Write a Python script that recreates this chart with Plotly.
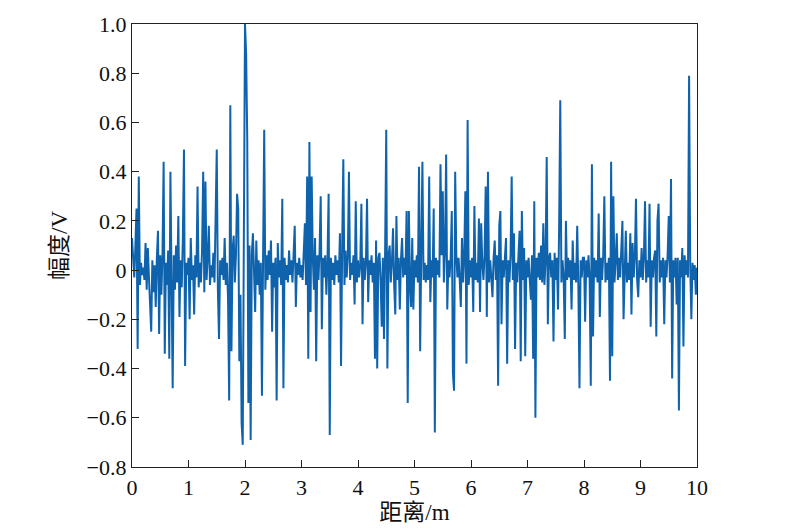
import numpy as np
import plotly.graph_objects as go

distance_step = 0.02  # m between samples

amplitude = [
    0.13, 0.02, -0.03, 0.10, 0.25, -0.32, 0.38, -0.06, 0.03, -0.02,
    0.01, -0.04, 0.11, -0.08, 0.09, -0.03, -0.12, -0.25, 0.04, -0.09,
    0.02, -0.15, 0.05, 0.16, -0.26, 0.06, -0.10, 0.07, 0.44, -0.34,
    0.03, -0.06, 0.08, -0.36, 0.40, 0.02, -0.48, 0.06, -0.08, 0.10,
    -0.05, 0.22, -0.19, 0.04, -0.07, 0.13, 0.49, -0.39, 0.03, -0.02,
    0.05, -0.20, 0.13, -0.04, 0.02, -0.18, 0.06, -0.03, 0.34, -0.07,
    0.03, -0.05, 0.08, 0.40, -0.09, 0.36, -0.04, 0.05, 0.18, -0.06,
    0.02, -0.03, 0.07, -0.05, 0.30, 0.49, -0.08, -0.28, 0.04, -0.02,
    0.05, -0.04, 0.13, -0.06, 0.03, -0.12, -0.53, 0.67, -0.33, 0.08,
    0.14, -0.05, 0.06, 0.31, 0.25, -0.37, -0.10, -0.62, -0.71, 0.46,
    1.00, 0.88, 0.53, -0.54, 0.10, -0.69, 0.06, 0.15, -0.08, -0.17,
    0.12, -0.06, 0.04, -0.10, 0.03, -0.51, 0.05, 0.57, -0.08, 0.06,
    -0.04, 0.08, -0.02, 0.12, -0.25, 0.03, -0.07, 0.05, -0.53, 0.11,
    -0.03, 0.04, -0.06, 0.29, -0.48, 0.05, -0.04, 0.02, -0.05, 0.08,
    -0.02, 0.04, -0.05, 0.07, 0.18, -0.15, 0.03, -0.02, 0.05, -0.03,
    0.02, -0.04, 0.06, 0.19, -0.06, 0.38, -0.36, 0.52, -0.17, 0.38,
    0.05, -0.08, 0.13, -0.37, 0.06, -0.04, 0.08, 0.30, -0.24, 0.05,
    -0.03, 0.06, -0.10, 0.04, 0.31, -0.67, 0.05, -0.04, 0.03, -0.06,
    0.06, -0.02, 0.04, -0.05, 0.15, -0.39, 0.10, 0.45, -0.06, 0.08,
    -0.03, 0.05, 0.40, -0.04, 0.03, -0.02, 0.06, -0.14, 0.28, -0.05,
    0.04, -0.03, 0.02, 0.27, -0.22, 0.05, -0.04, 0.03, 0.29, -0.13,
    0.04, -0.02, 0.06, -0.05, 0.03, -0.36, 0.12, -0.40, 0.05, 0.07,
    -0.04, -0.23, 0.05, -0.28, 0.08, 0.57, -0.40, 0.06, 0.10, -0.05,
    0.03, 0.17, -0.06, -0.18, 0.22, -0.04, 0.05, -0.16, 0.04, 0.13,
    -0.03, 0.05, -0.02, 0.24, -0.54, 0.24, -0.05, -0.15, 0.13, -0.16,
    0.04, -0.03, 0.06, -0.05, 0.42, -0.33, 0.08, 0.44, -0.04, 0.03,
    -0.05, 0.02, -0.04, 0.38, -0.13, 0.04, -0.03, 0.25, -0.66, 0.05,
    -0.02, 0.04, -0.03, 0.43, 0.06, 0.32, -0.05, 0.08, 0.47, -0.16,
    0.04, -0.03, 0.05, 0.24, -0.42, -0.49, 0.40, 0.06, -0.03, 0.05,
    -0.04, -0.15, 0.13, -0.05, 0.06, 0.32, -0.38, 0.61, -0.06, 0.04,
    -0.03, 0.05, -0.17, 0.26, -0.04, 0.03, -0.05, 0.21, -0.17, 0.19,
    0.03, -0.04, 0.06, 0.34, -0.19, 0.40, -0.05, 0.04, -0.03, -0.11,
    0.05, 0.12, -0.04, 0.06, -0.47, 0.18, 0.24, -0.22, 0.04, -0.03,
    0.05, 0.13, -0.38, 0.04, -0.05, 0.06, 0.38, -0.04, 0.15, -0.32,
    0.03, -0.05, 0.06, 0.16, -0.37, 0.24, -0.04, 0.09, -0.35, 0.04,
    -0.03, 0.05, -0.04, -0.12, 0.06, -0.36, 0.28, -0.60, 0.05, -0.03,
    0.07, -0.04, 0.10, -0.05, 0.19, -0.06, 0.04, 0.46, -0.22, 0.05,
    0.07, -0.03, 0.04, -0.29, 0.07, -0.04, 0.05, -0.16, 0.18, 0.69,
    -0.05, 0.04, -0.03, -0.28, 0.20, -0.04, 0.05, -0.03, 0.04, -0.16,
    0.12, -0.04, 0.03, -0.05, 0.18, -0.06, -0.48, 0.04, -0.03, 0.05,
    0.05, -0.21, 0.04, -0.03, 0.06, -0.04, -0.47, 0.43, -0.27, 0.05,
    -0.03, 0.04, -0.05, 0.23, -0.19, 0.05, -0.04, 0.06, 0.30, -0.05,
    0.03, -0.04, 0.05, -0.45, 0.44, -0.35, 0.30, -0.05, 0.04, 0.15,
    -0.04, 0.05, -0.03, 0.06, 0.20, -0.20, 0.04, 0.16, -0.05, 0.03,
    -0.04, 0.15, -0.18, 0.11, -0.03, 0.05, 0.29, -0.04, -0.11, 0.04,
    -0.03, 0.09, -0.04, 0.05, 0.28, -0.05, 0.04, -0.03, 0.27, -0.23,
    0.04, -0.03, 0.05, 0.08, -0.27, 0.20, 0.27, -0.05, 0.04, -0.03,
    0.05, -0.22, 0.04, -0.03, 0.06, 0.22, -0.05, 0.37, -0.44, 0.04,
    -0.03, 0.05, -0.14, 0.05, -0.57, 0.04, -0.03, 0.09, -0.31, 0.06,
    -0.02, 0.04, -0.03, 0.79, 0.02, -0.20, 0.03, -0.04, 0.02, -0.10,
    0.01,
]

distance = np.arange(len(amplitude)) * distance_step

x_tick_values = [0, 1, 2, 3, 4, 5, 6, 7, 8, 9, 10]
x_tick_labels = ["0", "1", "2", "3", "4", "5", "6", "7", "8", "9", "10"]
y_tick_values = [-0.8, -0.6, -0.4, -0.2, 0, 0.2, 0.4, 0.6, 0.8, 1.0]
y_tick_labels = ["\u22120.8", "\u22120.6", "\u22120.4", "\u22120.2", "0",
                 "0.2", "0.4", "0.6", "0.8", "1.0"]

font_family = "Liberation Serif, Times New Roman, Noto Sans CJK SC, serif"

fig = go.Figure()
fig.add_trace(go.Scatter(
    x=distance, y=amplitude, mode="lines",
    line=dict(color="#0f63ad", width=2),
    showlegend=False,
))

axis_common = dict(
    showline=True, linecolor="#222222", linewidth=1.3, mirror=True,
    ticks="inside", ticklen=7, tickwidth=1.2, tickcolor="#222222",
    showgrid=False, zeroline=False, automargin=False,
    tickfont=dict(family=font_family, size=22, color="#111111"),
)

fig.update_layout(
    width=800, height=532,
    margin=dict(l=124, r=111, t=16, b=73),
    paper_bgcolor="white", plot_bgcolor="white",
    font=dict(family=font_family, color="#111111"),
)
fig.update_xaxes(
    range=[0, 10], tickvals=x_tick_values, ticktext=x_tick_labels,
    title=dict(text="距离/m", font=dict(family=font_family, size=23), standoff=2),
    **axis_common,
)
fig.update_yaxes(
    range=[-0.8, 1.0], tickvals=y_tick_values, ticktext=y_tick_labels,
    title=dict(text="幅度/V", font=dict(family=font_family, size=23), standoff=12),
    **axis_common,
)

fig.write_html("out.html")
